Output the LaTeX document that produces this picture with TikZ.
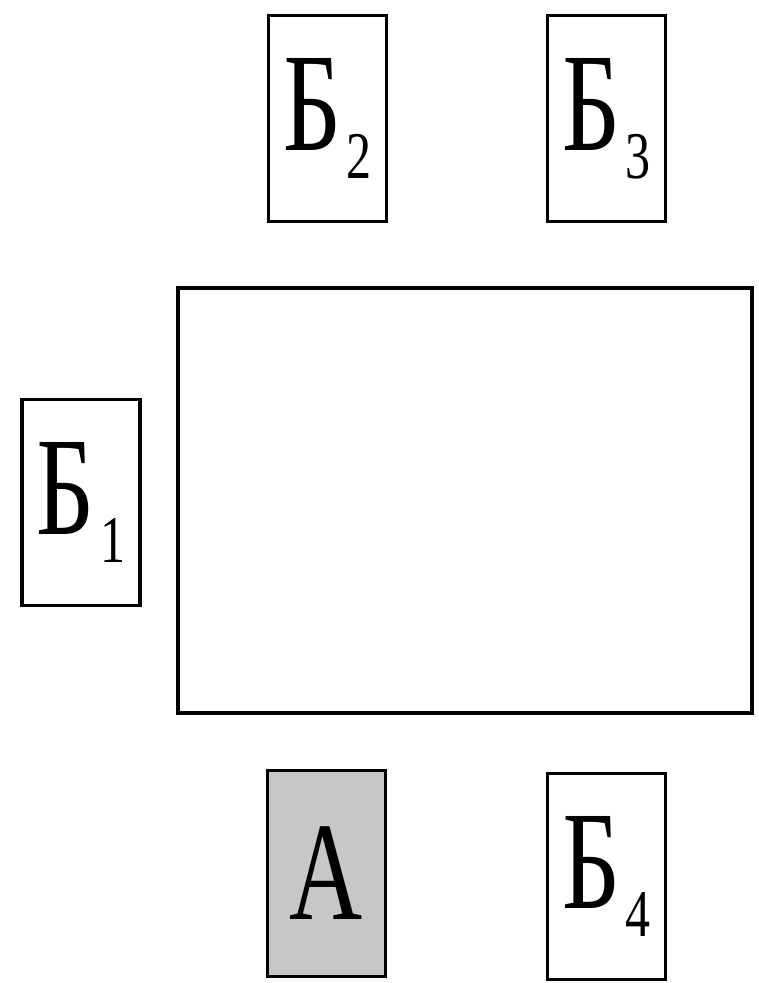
\documentclass[tikz,border=0pt]{standalone}
\usepackage{fontspec}
\setmainfont{Liberation Serif}
\usepackage{tikz}
\usetikzlibrary{positioning}
\newcommand{\seatlbl}[2]{\scalebox{0.72}[1]{#1}\hspace{0.04em}\raisebox{-0.2em}{\scalebox{0.75}[1]{\fontsize{38}{38}\selectfont #2}}}
\tikzset{
  seat/.style     = {draw, line width=2.2pt, minimum width=2.36cm, minimum height=4.12cm,
                     inner sep=0pt, font=\fontsize{80}{80}\selectfont},
  seatsel/.style  = {seat, fill=black!22},
  tbl/.style      = {draw, line width=2.6pt, minimum width=11.48cm, minimum height=8.5cm, inner sep=0pt},
}
\begin{document}
\begin{tikzpicture}[x=0.02cm, y=-0.02cm]
  \useasboundingbox (0,0) rectangle (759,983);
  % table
  \node[tbl] (t) at (465,500.5) {};
  % seats
  \node[seat] (b1) at (81,502.5) {\seatlbl{Б}{1}};
  \node[seat] (b2) at (327.5,118.5) {\seatlbl{Б}{2}};
  \node[seat] (b3) at (606.5,118.5) {\seatlbl{Б}{3}};
  \node[seatsel] (a) at (326.5,873.5) {\scalebox{0.72}[1]{А}};
  \node[seat] (b4) at (606.5,876.5) {\seatlbl{Б}{4}};
\end{tikzpicture}
\end{document}
